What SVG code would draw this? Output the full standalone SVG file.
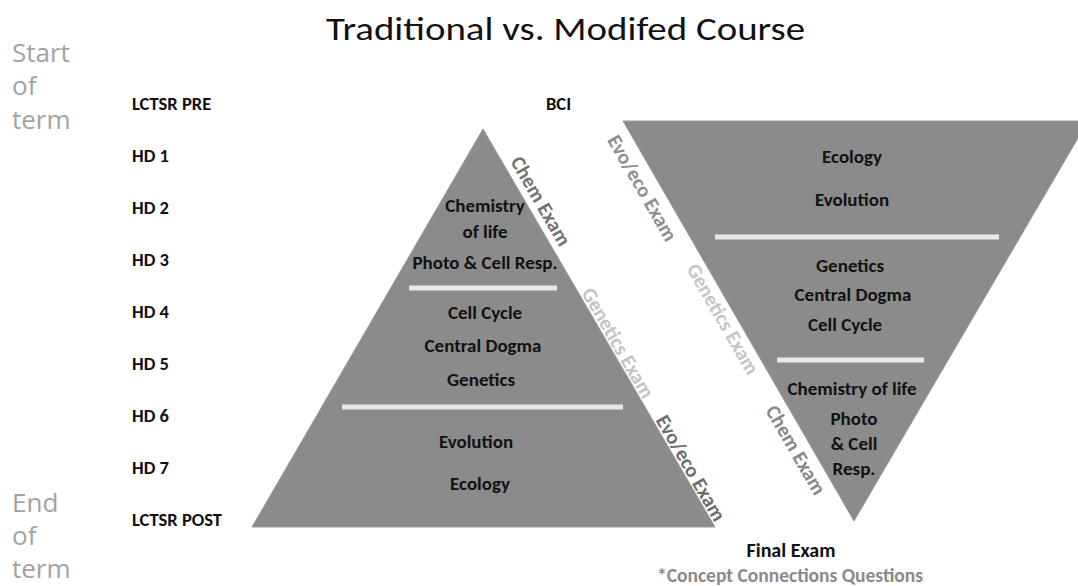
<svg xmlns="http://www.w3.org/2000/svg" width="1078" height="586" viewBox="0 0 1078 586">
<style>
.title{font-family:Carlito,Lato,"Liberation Sans",sans-serif;font-size:32px;fill:#111}
.term{font-family:"Open Sans","Liberation Sans",sans-serif;font-size:26px;fill:#a3a3a3}
.lbl{font-family:Carlito,Lato,"Liberation Sans",sans-serif;font-weight:bold;font-size:18.5px;fill:#111}
.tx{font-family:Carlito,Lato,"Liberation Sans",sans-serif;font-weight:bold;font-size:19px;fill:#111;text-anchor:middle}
.ex{font-family:Carlito,Lato,"Liberation Sans",sans-serif;font-weight:bold;font-size:20.5px;text-anchor:middle}
.tri{fill:#8b8b8b;stroke:#9a9a9a;stroke-width:1}
.sep{stroke:#e8e8e8;stroke-width:5}
</style>
<rect width="1078" height="586" fill="#ffffff"/>
<text class="title" x="326" y="40" textLength="479" lengthAdjust="spacingAndGlyphs">Traditional vs. Modifed Course</text>
<g id="start-term">
<text class="term" x="12" y="62">Start</text>
<text class="term" x="12" y="95">of</text>
<text class="term" x="12" y="129">term</text>
</g>
<g id="end-term">
<text class="term" x="12" y="512">End</text>
<text class="term" x="12" y="545">of</text>
<text class="term" x="12" y="578">term</text>
</g>
<g id="timeline">
<text class="lbl" x="132" y="110">LCTSR PRE</text>
<text class="lbl" x="132" y="162">HD 1</text>
<text class="lbl" x="132" y="214">HD 2</text>
<text class="lbl" x="132" y="266">HD 3</text>
<text class="lbl" x="132" y="318">HD 4</text>
<text class="lbl" x="132" y="370">HD 5</text>
<text class="lbl" x="132" y="422">HD 6</text>
<text class="lbl" x="132" y="474">HD 7</text>
<text class="lbl" x="132" y="526">LCTSR POST</text>
</g>
<g id="bci">
<text class="lbl" x="546" y="110">BCI</text>
</g>
<g id="traditional">
<polygon class="tri" points="483,129 715,527 252,527"/>
<line class="sep" x1="409" y1="288" x2="557" y2="288"/>
<line class="sep" x1="342" y1="407" x2="623" y2="407"/>
<text class="tx" x="485" y="212">Chemistry</text>
<text class="tx" x="485" y="238">of life</text>
<text class="tx" x="485" y="269">Photo &amp; Cell Resp.</text>
<text class="tx" x="485" y="319">Cell Cycle</text>
<text class="tx" x="483" y="352">Central Dogma</text>
<text class="tx" x="481" y="386">Genetics</text>
<text class="tx" x="476" y="448">Evolution</text>
<text class="tx" x="480" y="490">Ecology</text>
</g>
<g id="modified">
<polygon class="tri" points="623,121 1088,121 854,521"/>
<line class="sep" x1="715" y1="237" x2="999" y2="237"/>
<line class="sep" x1="777" y1="360" x2="924" y2="360"/>
<text class="tx" x="852" y="163">Ecology</text>
<text class="tx" x="852" y="206">Evolution</text>
<text class="tx" x="850" y="272">Genetics</text>
<text class="tx" x="853" y="301">Central Dogma</text>
<text class="tx" x="845" y="331">Cell Cycle</text>
<text class="tx" x="852" y="395">Chemistry of life</text>
<text class="tx" x="854" y="425">Photo</text>
<text class="tx" x="854" y="450">&amp; Cell</text>
<text class="tx" x="854" y="475">Resp.</text>
</g>
<g id="exam-labels">
<text class="ex" fill="#727272" transform="rotate(60 534.9 204.6)" x="534.9" y="204.6">Chem Exam</text>
<text class="ex" fill="#c4c4c4" transform="rotate(60 612 346.4)" x="612" y="346.4">Genetics Exam</text>
<text class="ex" fill="#6e6e6e" transform="rotate(60 684.9 471.5)" x="684.9" y="471.5">Evo/eco Exam</text>
<text class="ex" fill="#8e8e8e" transform="rotate(60 636.5 191.5)" x="636.5" y="191.5">Evo/eco Exam</text>
<text class="ex" fill="#c6c6c6" transform="rotate(60 717 322.5)" x="717" y="322.5">Genetics Exam</text>
<text class="ex" fill="#888888" transform="rotate(60 789.9 453.5)" x="789.9" y="453.5">Chem Exam</text>
</g>
<g id="final-exam">
<text class="tx" x="791" y="557" style="font-size:20px">Final Exam</text>
<text class="tx" x="790" y="582" style="fill:#8a8a8a;font-size:19.5px">*Concept Connections Questions</text>
</g>
</svg>
